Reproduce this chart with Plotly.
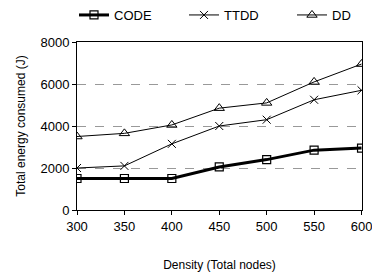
import plotly.graph_objects as go

density = [300, 350, 400, 450, 500, 550, 600]
code = [1500, 1500, 1500, 2050, 2400, 2850, 2950]
ttdd = [2000, 2100, 3150, 4000, 4300, 5250, 5700]
dd = [3500, 3650, 4050, 4850, 5100, 6100, 6950]

fig = go.Figure()
fig.add_trace(go.Scatter(x=density, y=code, name="CODE", mode="lines+markers", legend="legend",
                         line=dict(color="black", width=3),
                         marker=dict(symbol="square-open", size=8, color="black", line=dict(width=1.2))))
fig.add_trace(go.Scatter(x=density, y=ttdd, name="TTDD", mode="lines+markers", legend="legend2",
                         line=dict(color="black", width=1),
                         marker=dict(symbol="x-thin-open", size=8, color="black", line=dict(width=1))))
fig.add_trace(go.Scatter(x=density, y=dd, name="DD", mode="lines+markers", legend="legend3",
                         line=dict(color="black", width=1),
                         marker=dict(symbol="triangle-up-open", size=9, color="black", line=dict(width=1))))

def leg(x):
    return dict(orientation="h", x=x, xanchor="left", xref="container", y=1 - 15 / 274,
                yanchor="middle", yref="container", font=dict(size=13), itemwidth=30,
                bgcolor="rgba(0,0,0,0)")

fig.update_layout(
    width=372, height=274,
    margin=dict(l=77, r=10, t=42, b=64, autoexpand=False),
    paper_bgcolor="white", plot_bgcolor="white",
    font=dict(family="Liberation Sans, Arial, sans-serif", size=13, color="black"),
    showlegend=True,
    legend=leg(74 / 372),
    legend2=leg(184 / 372),
    legend3=leg(292 / 372),
    xaxis=dict(range=[300, 600.5], tickvals=density, ticks="outside", ticklen=4, tickcolor="black",
               showline=True, linecolor="black", linewidth=1, mirror=True, showgrid=False,
               zeroline=False, title=dict(text="Density (Total nodes)", font=dict(size=12), standoff=28),
               tickfont=dict(size=13), ticklabeloverflow="allow"),
    yaxis=dict(range=[0, 8000], tickvals=[0, 2000, 4000, 6000, 8000], ticks="outside", ticklen=4,
               tickcolor="black", showline=True, linecolor="black", linewidth=1, mirror=True,
               showgrid=True, gridcolor="#999999", griddash="dash", gridwidth=1, zeroline=False,
               title=dict(text="Total energy consumed (J)", font=dict(size=12), standoff=12),
               tickfont=dict(size=13)),
)
fig.write_html("out.html", config={"displayModeBar": False},
               post_script="document.body.style.margin='0';document.body.style.overflow='hidden';")
